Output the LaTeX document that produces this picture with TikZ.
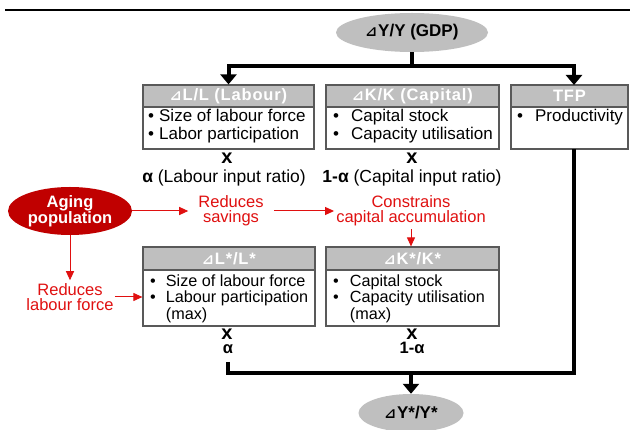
\documentclass[tikz,border=0pt]{standalone}
\usepackage{fontspec}
\setmainfont{Liberation Sans}
\newfontfamily\symfont{DejaVu Sans}
\newfontfamily\hdrfont[LetterSpace=5]{Liberation Sans}
\usetikzlibrary{arrows.meta,shapes.geometric}
\definecolor{hdrgray}{HTML}{BFBFBF}
\definecolor{boxline}{HTML}{595959}
\definecolor{darkred}{HTML}{C00000}
\definecolor{txtred}{HTML}{E01010}
\newcommand{\tri}{{\fontsize{14}{14}\symfont ⊿}\kern1pt}
\newcommand{\blist}[2]{\begin{tabular}[t]{@{}l@{\hspace{#1}}l@{}}#2\end{tabular}}
\newcommand{\fsz}[2]{\fontsize{#1}{#2}\selectfont}
\begin{document}
\begin{tikzpicture}[x=1pt,y=-1pt,
  hdr/.style={draw=boxline,line width=1.2pt,fill=hdrgray,minimum height=22pt,inner sep=0,text=white,font=\hdrfont\fsz{16.5}{18}\bfseries},
  bodyrect/.style={draw=boxline,line width=1.2pt,fill=white,inner sep=0},
  btxt/.style={anchor=base west,inner sep=0,font=\fsz{17}{18}},
  btxtb/.style={anchor=base west,inner sep=0,font=\fsz{16.2}{15.5}},
  mult/.style={anchor=base,inner sep=0,font=\fsz{20}{20}\bfseries},
  ratio/.style={anchor=base,inner sep=0,font=\fsz{17.5}{18}},
  ratiob/.style={anchor=base,inner sep=0,font=\fsz{16.5}{16}\bfseries},
  grayell/.style={ellipse,fill=hdrgray,inner sep=0,font=\fsz{17}{17}\bfseries},
  redtxt/.style={text=txtred,align=center,font=\fsz{16.5}{15},inner ysep=3pt},
  blkline/.style={line width=4pt,line join=miter},
  blkarrow/.style={line width=4pt,-{Triangle[width=16pt,length=10pt]}},
  redarrow/.style={draw=txtred,line width=1pt,-{Triangle[width=8pt,length=9pt]}}
]
\useasboundingbox (0,0) rectangle (630,430);
\fill[white] (0,0) rectangle (630,430);

% top rule
\coordinate (rs) at (5,10);
\coordinate (re) at (630,10);
\draw[line width=2.5pt] (rs) -- (re);

% GDP
\node[grayell,minimum width=152pt,minimum height=39pt] (gdp) at (412,32.5) {\tri Y/Y (GDP)};

% top row boxes
\node[bodyrect,minimum width=171pt,minimum height=42pt] (Lb) at (228.5,128) {};
\node[hdr,minimum width=171pt] (Lh) at (228.5,96) {\tri L/L (Labour)};
\node[bodyrect,minimum width=173pt,minimum height=42pt] (Kb) at (412.5,128) {};
\node[hdr,minimum width=173pt] (Kh) at (412.5,96) {\tri K/K (Capital)};
\node[bodyrect,minimum width=117pt,minimum height=42pt] (Tb) at (569.5,128) {};
\node[hdr,minimum width=117pt] (Th) at (569.5,96) {TFP};

\node[btxt] (Lt) at (148,121.5) {\blist{5pt}{•&Size of labour force\\•&Labor participation}};
\node[btxt] (Kt) at (333,121.5) {\blist{12pt}{•&Capital stock\\•&Capacity utilisation}};
\node[btxt] (Tt) at (517,121.5) {\blist{12pt}{•&Productivity}};

\node[mult] (Lx) at (227,163.5) {x};
\node[ratio] (La) at (224,183) {\textbf{α} (Labour input ratio)};
\node[mult] (Kx) at (412,163.5) {x};
\node[ratio] (Ka) at (412,183) {\textbf{1-α} (Capital input ratio)};

% top connector
\coordinate (j1) at (412,66);
\coordinate (tfpin) at (574,85);
\coordinate (tfpout) at (574,149);
\draw[blkline] (gdp.south) -- (j1);
\draw[blkarrow] (j1) -| (Lh.north);
\draw[blkarrow] (j1) -| (tfpin);

% aging chain
\node[ellipse,fill=darkred,text=white,align=center,inner sep=0,minimum width=124pt,minimum height=48pt,font=\fsz{16.5}{16}\bfseries] (age) at (70,211) {Aging\\population};
\node[redtxt,inner xsep=10pt] (sav) at (231,211) {Reduces\\savings};
\node[redtxt,inner xsep=2pt] (con) at (411,211) {Constrains\\capital accumulation};
\node[redtxt,inner xsep=1pt] (rlf) at (70,297) {Reduces\\labour force};

% bottom row boxes
\node[bodyrect,minimum width=172pt,minimum height=56pt] (Lsb) at (229,298) {};
\node[hdr,minimum width=172pt,minimum height=23pt] (Lsh) at (229,258.5) {\tri L*/L*};
\node[bodyrect,minimum width=173pt,minimum height=56pt] (Ksb) at (412.5,298) {};
\node[hdr,minimum width=173pt,minimum height=23pt] (Ksh) at (412.5,258.5) {\tri K*/K*};

\node[btxtb] (Lst) at (150,286.5) {\blist{10pt}{•&Size of labour force\\•&Labour participation\\&(max)}};
\node[btxtb] (Kst) at (333,286.5) {\blist{11pt}{•&Capital stock\\•&Capacity utilisation\\&(max)}};

\node[mult] (Lsx) at (227,339.5) {x};
\node[ratiob] (Lsa) at (228,354) {α};
\node[mult] (Ksx) at (412,339.5) {x};
\node[ratiob] (Ksa) at (412,354) {1-α};

% red arrows
\draw[redarrow] (age.east) -- (sav.west);
\draw[redarrow] (sav.east) -- (con.west);
\draw[redarrow] (con.south) -- (con.south |- Ksh.north);
\draw[redarrow] (age.south) -- (rlf.north);
\draw[redarrow] (rlf.east) -- (rlf.east -| Lsb.west);

% bottom ellipse and connector
\node[grayell,minimum width=105pt,minimum height=38pt] (ystar) at (411,413) {\tri Y*/Y*};
\coordinate (b0) at (228,362);
\coordinate (b1) at (228,373);
\coordinate (b2) at (574,373);
\draw[blkline] (b0) -- (b1) -- (b2) -- (tfpout);
\draw[blkarrow] (ystar.north |- b1) -- (ystar.north);
\end{tikzpicture}
\end{document}
